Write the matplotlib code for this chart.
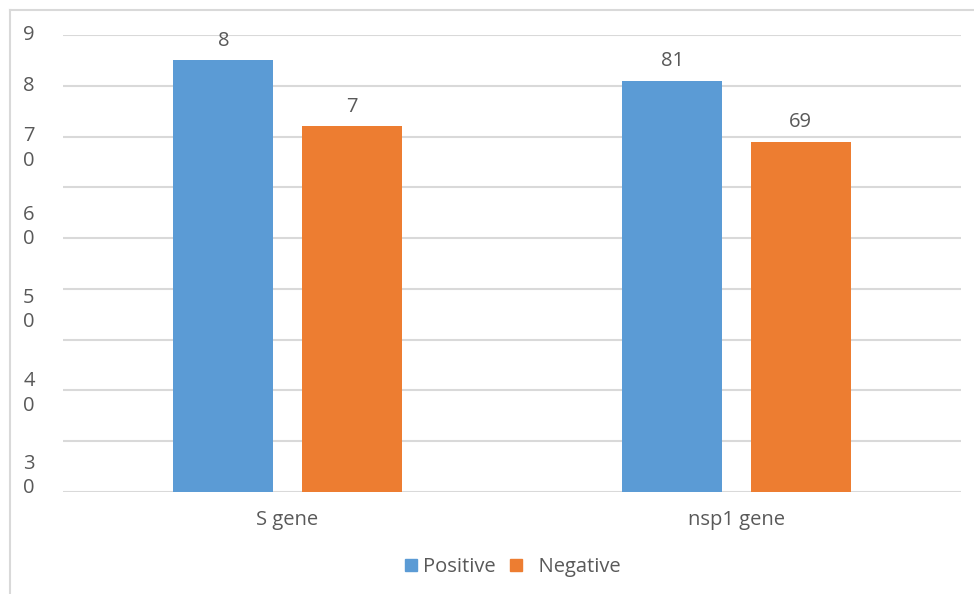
import numpy as np
import matplotlib.pyplot as plt
from matplotlib.lines import Line2D
from matplotlib.patches import Patch
from matplotlib.transforms import blended_transform_factory

genes = ["S gene", "nsp1 gene"]
positive = [85, 81]
negative = [72, 69]
# value labels as printed on the bars
positive_labels = ["8", "81"]
negative_labels = ["7", "69"]
# y tick text, wrapped onto two lines
ytick_text = ["9", "8", "7\n0", "6\n0", "5\n0", "4\n0", "3\n0"]
ytick_pos = [90, 80, 67.6, 52.2, 35.8, 19.4, 3.2]

blue = "#5B9BD5"
orange = "#ED7D31"
grid_color = "#D9D9D9"
text_color = "#595959"
fs = 14.5

plt.rcParams["font.family"] = ["Open Sans", "DejaVu Sans"]

fig = plt.figure(figsize=(9.74, 5.94), dpi=100)
ax = fig.add_axes([63 / 974, 102 / 594, 898 / 974, 457 / 594])

x = np.arange(len(genes))
w = 0.223
off = 0.143
b1 = ax.bar(x - off, positive, w, color=blue, zorder=3)
b2 = ax.bar(x + off, negative, w, color=orange, zorder=3)

for bars, labels in [(b1, positive_labels), (b2, negative_labels)]:
    for bar, lab in zip(bars, labels):
        ax.annotate(lab, (bar.get_x() + bar.get_width() / 2, bar.get_height()),
                    xytext=(0, 7), textcoords="offset points",
                    ha="center", va="bottom", fontsize=fs, color=text_color)

ax.set_xlim(-0.5, 1.5)
ax.set_ylim(0, 90)
ax.set_yticks(np.arange(0, 91, 10))
ax.yaxis.grid(True, color=grid_color, linewidth=1.5, zorder=0)
ax.tick_params(axis="y", length=0, labelleft=False)
ax.set_xticks(x)
ax.set_xticklabels(genes, fontsize=fs, color=text_color)
ax.tick_params(axis="x", length=0, pad=13)
for s in ax.spines.values():
    s.set_visible(False)

ytrans = blended_transform_factory(fig.transFigure, ax.transData)
for txt, pos in zip(ytick_text, ytick_pos):
    ax.text(29 / 974, pos, txt, transform=ytrans, ha="center", va="center",
            fontsize=fs, color=text_color, linespacing=1.3)

# outer frame: top and left edges only
fig.add_artist(Line2D([10 / 974, 1], [1 - 10 / 594, 1 - 10 / 594], transform=fig.transFigure,
                      color=grid_color, linewidth=1.5))
fig.add_artist(Line2D([10 / 974, 10 / 974], [0, 1 - 10 / 594], transform=fig.transFigure,
                      color=grid_color, linewidth=1.5))

handles = [Patch(color=blue), Patch(color=orange)]
fig.legend(handles, ["Positive", "  Negative"], loc="center", bbox_to_anchor=(513 / 974, 1 - 567 / 594),
           ncol=2, frameon=False, fontsize=fs, labelcolor=text_color,
           handlelength=0.6, handleheight=0.6, handletextpad=0.3, columnspacing=0.7)

fig.savefig("out.png", dpi=100)
